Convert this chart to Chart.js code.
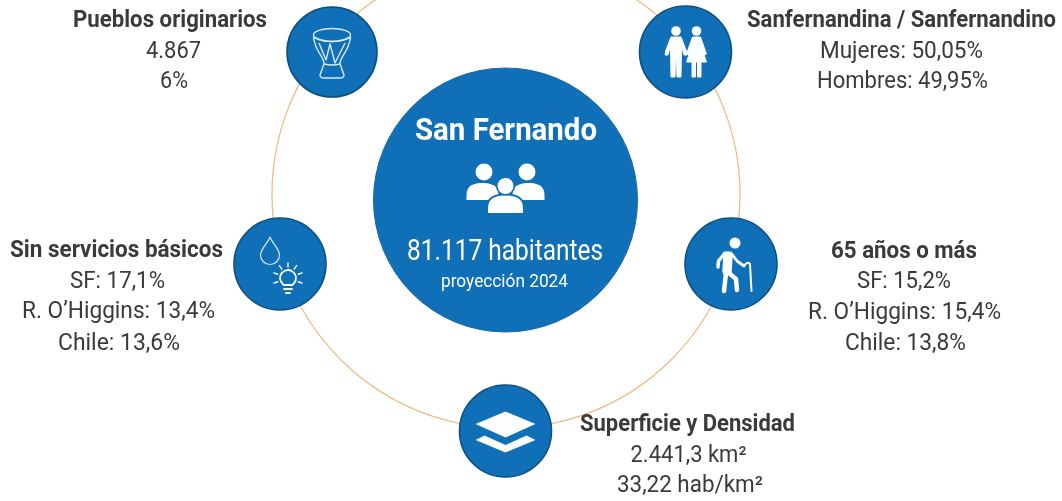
<!DOCTYPE html>
<html><head><meta charset="utf-8">
<script src="https://cdn.jsdelivr.net/npm/chart.js@4"></script>
<style>html,body{margin:0;padding:0;background:#fff}canvas{display:block;filter:blur(0.45px)}</style>
</head><body><canvas id="c" width="1062" height="501"></canvas>
<script>
const nodeNames = ['centro','pueblos','poblacion','servicios','mayores','superficie'];
const nodeX = [505.5,332,685.5,280,731,505.5];
const nodeY = [200,52,52,264,264,431];
const nodeR = [132,45,46,46,46,46];
const ringX = [506];
const ringY = [194];
const ringR = [234];

const labelText = [
 'Pueblos originarios','4.867','6%',
 'Sanfernandina / Sanfernandino','Mujeres: 50,05%','Hombres: 49,95%',
 'Sin servicios básicos','SF: 17,1%','R. O’Higgins: 13,4%','Chile: 13,6%',
 '65 años o más','SF: 15,2%','R. O’Higgins: 15,4%','Chile: 13,8%',
 'Superficie y Densidad','2.441,3 km²','33,22 hab/km²'
];
const labelX = [170,173.5,174, 901.5,901.5,902.5, 116.5,117.5,118.5,119, 904,904,904.5,905.5, 687.5,688.5,690];
const labelY = [27,58,88, 27,58,88, 257,288,318,350, 258,288,319,350, 431,462,492];
const labelW = [194,55,28, 309,163,171, 213,95,193,122, 146,94,193,121, 215,116,146];
const labelBold = [1,0,0, 1,0,0, 1,0,0,0, 1,0,0,0, 1,0,0];
const centerText = ['San Fernando','81.117 habitantes','proyección 2024'];
const centerX = [506,505,504.5];
const centerY = [140,260,287];
const centerW = [182,196,127];
const centerFont = ['bold 32px Roboto','29px Roboto','18px Roboto'];

const BLUE='#0F70B7', EDGE='#0E4F80', RING='#EDBB85', INK='#3a3a3a', ICON='#fdfefe', LINE='#d8e9f5';

function fitText(ctx,t,x,y,w){
  const m=ctx.measureText(t).width, s=w/m;
  ctx.save();ctx.translate(x,y);ctx.scale(s,1);
  ctx.textAlign='center';ctx.textBaseline='alphabetic';
  ctx.fillText(t,0,0);ctx.restore();
}
function poly(ctx,p){ctx.beginPath();p.forEach((q,i)=>i?ctx.lineTo(q[0],q[1]):ctx.moveTo(q[0],q[1]));ctx.closePath();}
function dome(ctx,x,w,top,bot){
  ctx.beginPath();ctx.moveTo(x-w,bot);ctx.lineTo(x-w,bot-5);
  ctx.bezierCurveTo(x-w,top+2,x-w*0.5,top,x,top);
  ctx.bezierCurveTo(x+w*0.5,top,x+w,top+2,x+w,bot-5);
  ctx.lineTo(x+w,bot);ctx.closePath();
}
const icons = {
 centro(ctx){
  ctx.fillStyle=ICON;
  [[-21.5,-28,8.5],[21.5,-28,8.5],[0,-14,8]].forEach(h=>{ctx.beginPath();ctx.arc(h[0],h[1],h[2],0,7);ctx.fill();});
  dome(ctx,-23,16,-17,0);ctx.fill();
  dome(ctx,23,16,-17,0);ctx.fill();
  dome(ctx,0,17.5,-4.5,13);ctx.strokeStyle=BLUE;ctx.lineWidth=4;ctx.stroke();ctx.fill();
  ctx.beginPath();ctx.arc(0,-14,8,0,7);ctx.strokeStyle=BLUE;ctx.lineWidth=3;ctx.stroke();ctx.fill();
 },
 pueblos(ctx){
  ctx.strokeStyle=LINE;ctx.lineWidth=1.4;ctx.lineJoin='round';
  ctx.beginPath();ctx.ellipse(0,-17,18.5,6.5,0,0,7);ctx.stroke();
  ctx.beginPath();ctx.moveTo(-18.5,-15);ctx.quadraticCurveTo(0,-6,18.5,-15);ctx.stroke();
  ctx.beginPath();ctx.moveTo(-18.5,-15);ctx.bezierCurveTo(-17,0,-8,4,-8,12);
  ctx.lineTo(-12,23);ctx.quadraticCurveTo(-12,26,-8,26);ctx.lineTo(8,26);ctx.quadraticCurveTo(12,26,12,23);
  ctx.lineTo(8,12);ctx.bezierCurveTo(8,4,17,0,18.5,-15);ctx.stroke();
  ctx.beginPath();ctx.moveTo(-8,12);ctx.quadraticCurveTo(0,14,8,12);ctx.stroke();
  ctx.beginPath();ctx.moveTo(-13,-9);ctx.lineTo(-6,8);ctx.lineTo(-2,-8);ctx.lineTo(3,11);ctx.lineTo(13,-9);ctx.stroke();
 },
 poblacion(ctx){
  ctx.fillStyle=ICON;ctx.strokeStyle=ICON;ctx.lineWidth=1;ctx.lineJoin='round';
  const a=-9.5,b=11;
  [a,b].forEach(x=>{ctx.beginPath();ctx.arc(x,-21,4.8,0,7);ctx.fill();});
  poly(ctx,[[a-5,-15],[a+5,-15],[a+10,-2],[a+11,3],[a+8,3],[a+5.5,-6],[a+5,25],[a+1,25],[a+.5,6],[a-.5,6],[a-1,25],[a-5,25],[a-5.5,-6],[a-8,3],[a-11,3],[a-10,-2]]);
  ctx.fill();ctx.stroke();
  poly(ctx,[[b-4,-15],[b+4,-15],[b+10,2],[b+8,3],[b+4.5,-6],[b+10,10],[b+4.5,10],[b+4.5,25],[b+1,25],[b+1,10],[b-1,10],[b-1,25],[b-4.5,25],[b-4.5,10],[b-10,10],[b-4.5,-6],[b-8,3],[b-10,2]]);
  ctx.fill();ctx.stroke();
 },
 servicios(ctx){
  ctx.strokeStyle=LINE;ctx.lineWidth=1.2;ctx.lineCap='round';
  ctx.beginPath();ctx.moveTo(-10,-27);
  ctx.bezierCurveTo(-12,-21,-19.5,-15,-19.5,-9);
  ctx.arc(-10,-9,9.5,Math.PI,0,true);
  ctx.bezierCurveTo(-0.5,-15,-8,-21,-10,-27);ctx.stroke();
  ctx.strokeStyle=ICON;ctx.lineWidth=1.8;
  ctx.beginPath();ctx.arc(8,14,8,Math.PI*0.72,Math.PI*0.28);ctx.stroke();
  ctx.beginPath();ctx.moveTo(3.5,21);ctx.lineTo(12.5,21);ctx.moveTo(4,25);ctx.lineTo(12,25);ctx.moveTo(6,29);ctx.lineTo(10,29);ctx.stroke();
  ctx.lineWidth=1.4;
  [200,235,270,305,340,20,160].forEach(d=>{const r=d*Math.PI/180;
   ctx.beginPath();ctx.moveTo(8+Math.cos(r)*11,14+Math.sin(r)*11);ctx.lineTo(8+Math.cos(r)*15,14+Math.sin(r)*15);ctx.stroke();});
 },
 mayores(ctx){
  ctx.fillStyle=ICON;ctx.strokeStyle=ICON;ctx.lineCap='round';ctx.lineJoin='round';
  ctx.beginPath();ctx.arc(4,-21,5.5,0,7);ctx.fill();
  ctx.lineWidth=9.5;ctx.beginPath();ctx.moveTo(-3,-8);ctx.lineTo(-4,7);ctx.stroke();
  ctx.lineWidth=4.5;
  ctx.beginPath();ctx.moveTo(-5,9);ctx.lineTo(-7,27);ctx.stroke();
  ctx.beginPath();ctx.moveTo(-2,9);ctx.lineTo(5,15);ctx.lineTo(6,26);ctx.stroke();
  ctx.lineWidth=3.5;
  ctx.beginPath();ctx.moveTo(-6,-11);ctx.lineTo(-12.5,-3);ctx.lineTo(-13,3);ctx.stroke();
  ctx.lineWidth=2.8;
  ctx.beginPath();ctx.moveTo(0,-11);ctx.lineTo(6,-3);ctx.lineTo(13,2);ctx.stroke();
  ctx.lineWidth=2;
  ctx.beginPath();ctx.moveTo(13,2);ctx.quadraticCurveTo(16,-3,19,0);ctx.lineTo(20.5,27);ctx.stroke();
 },
 superficie(ctx){
  ctx.fillStyle=ICON;
  poly(ctx,[[-30,-7],[0,-19.5],[30,-7],[0,6.5]]);ctx.fill();
  poly(ctx,[[-30,9],[-21,4.5],[0,14],[21,4.5],[30,9],[0,21.5]]);ctx.fill();
 }
};

const overlay = {
 id:'overlay',
 afterDatasetsDraw(chart){
  const ctx=chart.ctx, sx=chart.scales.x, sy=chart.scales.y;
  const pts=chart.getDatasetMeta(0).data;
  pts.forEach((el,i)=>{
    ctx.save();ctx.translate(el.x,el.y);icons[nodeNames[i]](ctx);ctx.restore();
  });
  ctx.save();
  ctx.fillStyle='#fff';
  centerText.forEach((t,i)=>{
    ctx.font=centerFont[i];
    fitText(ctx,t,sx.getPixelForValue(centerX[i]),sy.getPixelForValue(centerY[i]),centerW[i]);
  });
  ctx.fillStyle=INK;
  labelText.forEach((t,i)=>{
    ctx.font=(labelBold[i]?'bold ':'')+'23px Roboto';
    fitText(ctx,t,sx.getPixelForValue(labelX[i]),sy.getPixelForValue(labelY[i]),labelW[i]);
  });
  ctx.restore();
 }
};

new Chart(document.getElementById('c'),{
 type:'bubble',
 data:{datasets:[
  {label:'nodos',data:nodeX.map((x,i)=>({x,y:nodeY[i],r:nodeR[i]})),
   backgroundColor:BLUE,borderColor:nodeR.map((r,i)=>i?EDGE:'#1a679f'),borderWidth:nodeR.map((r,i)=>i?1.6:1)},
  {label:'anillo',data:ringX.map((x,i)=>({x,y:ringY[i],r:ringR[i]})),
   backgroundColor:'rgba(0,0,0,0)',borderColor:RING,borderWidth:1.3}
 ]},
 plugins:[overlay],
 options:{
  responsive:false,animation:false,events:[],
  layout:{padding:0,autoPadding:false},
  plugins:{legend:{display:false},tooltip:{enabled:false},title:{display:false}},
  scales:{
   x:{type:'linear',min:0,max:1062,display:false},
   y:{type:'linear',min:0,max:501,reverse:true,display:false}
  }
 }
});
</script></body></html>
